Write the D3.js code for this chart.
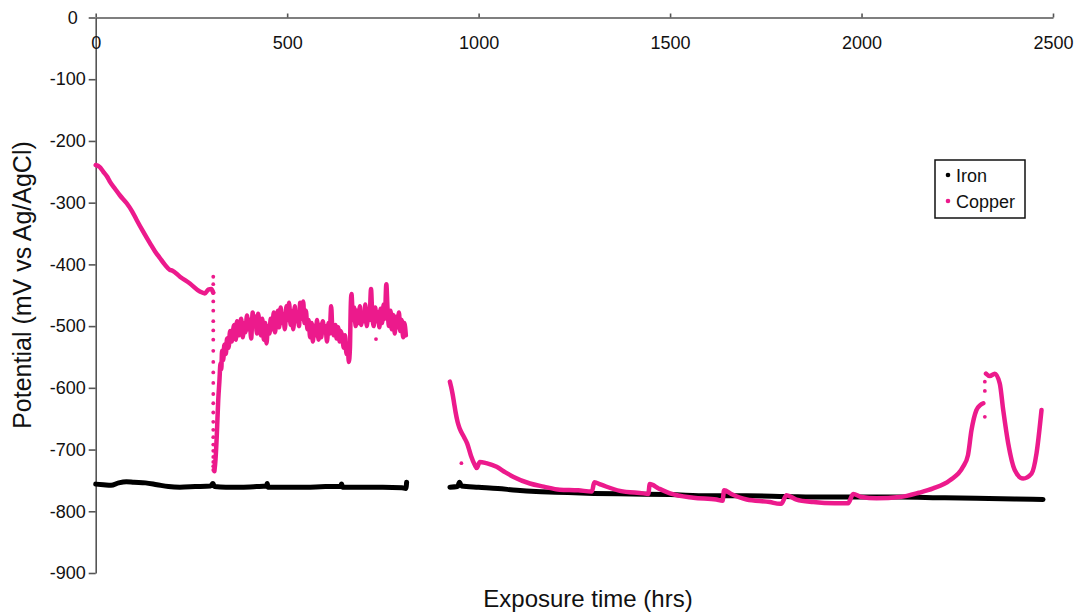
<!DOCTYPE html>
<html>
<head>
<meta charset="utf-8">
<script src="https://cdn.jsdelivr.net/npm/d3@7"></script>
<style>
  html, body { margin: 0; padding: 0; background: #fff; }
  svg { display: block; font-family: "Liberation Sans", Arial, sans-serif; }
</style>
</head>
<body>
<svg id="chart" width="1083" height="615"></svg>
<script>
// ---------- data ----------
const xTicks = [0, 500, 1000, 1500, 2000, 2500];
const yTicks = [0, -100, -200, -300, -400, -500, -600, -700, -800, -900];
const seriesNames = ["Iron", "Copper"];

// Iron potential [hours, mV]; null value = gap in record
const ironPoints = [
  [0,-756],[20,-757],[40,-758],[60,-754],[80,-752],[100,-753],[130,-754],[160,-757],[190,-760],
  [220,-761],[260,-760],[300,-759],[306,-755],[310,-760],[340,-761],[380,-761],[420,-760],
  [446,-759],[448,-755],[450,-761],[500,-761],[550,-761],[600,-760],[640,-760],[642,-756],
  [645,-761],[700,-761],[750,-761],[800,-762],[810,-763],[812,-753],
  [870,null],
  [925,-761],[945,-760],[950,-753],[955,-759],[1000,-761],[1050,-763],[1100,-766],[1150,-768],
  [1200,-769],[1300,-771],[1400,-772],[1500,-773],[1600,-775],[1700,-775],[1800,-776],
  [1900,-777],[2000,-777],[2100,-777],[2200,-778],[2300,-779],[2400,-780],[2474,-781]
];

// Copper potential [hours, mV]; null value = gap
const copperPoints = [
  [0,-239],[10,-242],[20,-250],[30,-258],[37,-266],[50,-277],[63,-288],[81,-301],[95,-314],
  [107,-328],[124,-347],[142,-366],[155,-379],[168,-390],[180,-400],[194,-409],[200,-410],
  [220,-420],[246,-431],[272,-444],[285,-447],[294,-441],[302,-440],[307,-446],
  [308,null],
  [310,-735],[313,-715],[316,-680],[318,-650],[320,-620],[323,-590],[326,-560],[328,-570],
  [330,-540],[333,-555],[336,-530],[340,-545],[343,-520],[347,-535],[351,-508],[355,-525],
  [358,-510],[362,-498],[366,-522],[369,-492],[373,-515],[377,-500],[380,-488],[384,-518],
  [388,-495],[391,-510],[395,-483],[399,-505],[402,-490],[406,-520],[410,-478],[413,-500],
  [417,-485],[421,-512],[424,-480],[428,-498],[432,-515],[435,-488],[439,-522],[443,-495],
  [446,-528],[450,-500],[454,-512],[457,-488],[461,-505],[465,-478],[468,-510],[472,-490],
  [476,-475],[479,-502],[483,-470],[487,-495],[490,-480],[494,-505],[498,-468],[501,-490],
  [505,-462],[509,-498],[512,-475],[516,-505],[520,-468],[523,-492],[527,-478],[531,-500],
  [534,-462],[538,-488],[542,-460],[545,-495],[549,-475],[553,-505],[556,-490],[560,-518],
  [564,-495],[567,-525],[571,-500],[575,-515],[578,-490],[582,-522],[586,-498],[589,-518],
  [593,-492],[597,-510],[600,-500],[604,-525],[608,-495],[611,-512],[615,-468],[618,-505],
  [622,-515],[626,-498],[629,-520],[633,-502],[637,-525],[640,-508],[644,-518],[648,-535],
  [651,-515],[655,-545],[658,-528],[661,-558],[664,-535],[666,-470],[668,-448],[672,-490],
  [675,-470],[679,-500],[682,-475],[686,-495],[690,-468],[693,-498],[697,-478],[701,-492],
  [704,-465],[708,-500],[712,-472],[715,-490],[719,-440],[722,-478],[726,-500],[730,-470],
  [733,-492],[737,-478],[741,-502],[744,-472],[748,-495],[752,-465],[755,-488],[759,-432],
  [762,-470],[766,-500],[770,-475],[773,-505],[777,-482],[781,-512],[784,-485],[788,-502],
  [792,-478],[795,-508],[799,-490],[803,-518],[806,-495],[810,-515],
  [860,null],
  [925,-590],[928,-598],[932,-610],[936,-625],[940,-640],[945,-655],[950,-665],[955,-672],
  [962,-680],[970,-690],[980,-710],[990,-725],[995,-730],[1003,-720],[1020,-722],[1047,-728],
  [1070,-737],[1090,-744],[1134,-755],[1170,-760],[1212,-765],[1260,-766],[1296,-768],
  [1302,-753],[1320,-757],[1369,-767],[1430,-771],[1443,-772],[1447,-756],[1470,-763],
  [1500,-771],[1561,-778],[1621,-781],[1637,-783],[1641,-766],[1660,-772],[1700,-781],
  [1760,-785],[1787,-788],[1790,-788],[1804,-774],[1830,-781],[1874,-785],[1930,-787],
  [1961,-787],[1965,-787],[1978,-772],[2000,-777],[2039,-779],[2100,-777],[2150,-770],
  [2187,-763],[2230,-750],[2265,-728],[2278,-709],[2287,-669],[2300,-636],[2310,-628],
  [2318,-625],
  [2321,null],
  [2325,-577],[2335,-581],[2348,-577],[2361,-593],[2370,-636],[2383,-690],[2400,-733],
  [2422,-747],[2444,-739],[2457,-706],[2470,-636]
];

// Sparse copper readings drawn as separate dots
const copperDots = [
  [307,-420],[307,-432],[307,-445],[307,-460],[307,-475],[307,-492],[307,-507],[307,-522],
  [307,-540],[307,-558],[307,-575],[307,-592],[307,-610],[307,-625],[307,-640],[307,-655],
  [307,-668],[307,-680],[307,-692],[307,-702],[307,-712],[307,-720],[307,-727],[307,-733],
  [664,-514],[732,-521],[955,-722],[2322,-590],[2322,-605],[2322,-647]
];

// ---------- drawing ----------
const svg = d3.select("#chart");
const x = d3.scaleLinear().domain([0, 2500]).range([95.7, 1053]);
const y = d3.scaleLinear().domain([0, -900]).range([17.5, 573]);

const colors = { Iron: "#000000", Copper: "#ec1a8c" };
const axisColor = "#555";

// Y axis
const yAxis = svg.append("g")
  .attr("transform", `translate(${x(0)},0)`)
  .call(d3.axisLeft(y).tickValues(yTicks).tickSizeInner(7).tickSizeOuter(0).tickPadding(3)
        .tickFormat(d => String(d)));
yAxis.select(".domain").attr("stroke", axisColor).attr("stroke-width", 1.6);
yAxis.selectAll(".tick line").attr("stroke", axisColor).attr("stroke-width", 1.6);
yAxis.selectAll(".tick text").attr("fill", "#111").attr("font-size", 18);
yAxis.selectAll(".tick").filter(d => d === 0).select("text").attr("x", -18);

// X axis at top, labels below the line
const xAxis = svg.append("g")
  .attr("transform", `translate(0,${y(0)})`)
  .call(d3.axisTop(x).tickValues(xTicks).tickSizeInner(4).tickSizeOuter(0)
        .tickFormat(d => String(d)));
xAxis.select(".domain").attr("stroke", axisColor).attr("stroke-width", 1.6);
xAxis.selectAll(".tick line").attr("stroke", axisColor).attr("stroke-width", 1.6);
xAxis.selectAll(".tick text").attr("fill", "#111").attr("font-size", 18)
  .attr("y", 19).attr("dy", "0.71em");

// Lines
const line = d3.line()
  .defined(d => d[1] !== null)
  .curve(d3.curveMonotoneX)
  .x(d => x(d[0]))
  .y(d => y(d[1]));

svg.append("path").datum(ironPoints)
  .attr("d", line).attr("fill", "none")
  .attr("stroke", colors.Iron).attr("stroke-width", 5)
  .attr("stroke-linejoin", "round").attr("stroke-linecap", "round");

svg.append("path").datum(copperPoints)
  .attr("d", line).attr("fill", "none")
  .attr("stroke", colors.Copper).attr("stroke-width", 4.5)
  .attr("stroke-linejoin", "round").attr("stroke-linecap", "round");

svg.append("g").selectAll("circle").data(copperDots).join("circle")
  .attr("cx", d => x(d[0])).attr("cy", d => y(d[1])).attr("r", 1.9)
  .attr("fill", colors.Copper);

// Axis titles
svg.append("text")
  .attr("x", 588).attr("y", 607)
  .attr("text-anchor", "middle").attr("font-size", 24).attr("fill", "#111")
  .text("Exposure time (hrs)");

svg.append("text")
  .attr("transform", "translate(31,285) rotate(-90)")
  .attr("text-anchor", "middle").attr("font-size", 25).attr("fill", "#111")
  .text("Potential (mV vs Ag/AgCl)");

// Legend
const lg = svg.append("g");
lg.append("rect").attr("x", 935).attr("y", 160).attr("width", 90).attr("height", 58)
  .attr("fill", "#fff").attr("stroke", "#111").attr("stroke-width", 1.5);
seriesNames.forEach((name, i) => {
  const cy = 175 + i * 26;
  lg.append("circle").attr("cx", 948).attr("cy", cy).attr("r", 2.3).attr("fill", colors[name]);
  lg.append("text").attr("x", 956).attr("y", cy + 7).attr("font-size", 18).attr("fill", "#111")
    .text(name);
});
</script>
</body>
</html>
